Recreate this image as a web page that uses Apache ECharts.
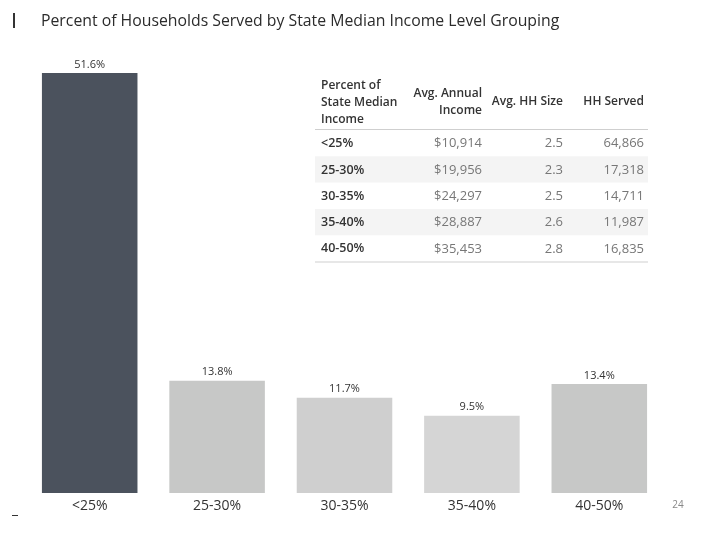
<!DOCTYPE html>
<html><head><meta charset="utf-8">
<script src="https://cdn.jsdelivr.net/npm/echarts@6/dist/echarts.min.js"></script>
<style>html,body{margin:0;padding:0;background:#fff}#c{width:720px;height:540px}</style>
</head><body><div id="c"></div>
<script>
const categories = ['<25%', '25-30%', '30-35%', '35-40%', '40-50%'];
const percentServed = [51.6, 13.8, 11.7, 9.5, 13.4];
const avgAnnualIncome = ['$10,914', '$19,956', '$24,297', '$28,887', '$35,453'];
const avgHHSize = ['2.5', '2.3', '2.5', '2.6', '2.8'];
const hhServed = ['64,866', '17,318', '14,711', '11,987', '16,835'];
const barColors = ['#4b525d', '#c7c8c7', '#cfcfcf', '#d5d5d5', '#c7c8c7'];

const FONT = '"Open Sans", "Noto Sans", sans-serif';
const chart = echarts.init(document.getElementById('c'));

const graphics = [];
graphics.push({type:'rect', shape:{x:13,y:13,width:2,height:15}, style:{fill:'#333'}});
graphics.push({type:'rect', shape:{x:12,y:515,width:6,height:1}, style:{fill:'#333'}});
graphics.push({type:'text', left:41, top:13, style:{text:'Percent of Households Served by State Median Income Level Grouping', font:'15.8px '+FONT, fill:'#2b2b2b'}});
graphics.push({type:'text', x:678, y:505, style:{text:'24', font:'10px '+FONT, fill:'#888', align:'center', verticalAlign:'middle'}});

const tX0 = 315, tX1 = 648;
const colRight = [482, 563, 644];
const rowTop = 130, rowH = 26.3;
const HF = '600 12px '+FONT;
[['Percent of',86],['State Median',103],['Income',120]].forEach(([t,y])=>{
  graphics.push({type:'text', x:321, y:y, style:{text:t, font:HF, fill:'#333', verticalAlign:'middle'}});
});
[['Avg. Annual',94],['Income',111]].forEach(([t,y])=>{
  graphics.push({type:'text', x:colRight[0], y:y, style:{text:t, font:HF, fill:'#333', align:'right', verticalAlign:'middle'}});
});
graphics.push({type:'text', x:colRight[1], y:102, style:{text:'Avg. HH Size', font:HF, fill:'#333', align:'right', verticalAlign:'middle'}});
graphics.push({type:'text', x:colRight[2], y:102, style:{text:'HH Served', font:HF, fill:'#333', align:'right', verticalAlign:'middle'}});
graphics.push({type:'rect', shape:{x:tX0,y:rowTop-1,width:tX1-tX0,height:1}, style:{fill:'#cfcfcf'}});
categories.forEach((c,i)=>{
  const y0 = rowTop + i*rowH;
  if (i % 2 === 1) graphics.push({type:'rect', z:-1, shape:{x:tX0,y:y0,width:tX1-tX0,height:rowH}, style:{fill:'#f4f4f4'}});
  const yc = y0 + rowH/2 + 0.5;
  graphics.push({type:'text', x:321, y:yc, style:{text:c, font:'600 12.5px '+FONT, fill:'#333', verticalAlign:'middle'}});
  graphics.push({type:'text', x:colRight[0], y:yc, style:{text:avgAnnualIncome[i], font:'13px '+FONT, fill:'#777', align:'right', verticalAlign:'middle'}});
  graphics.push({type:'text', x:colRight[1], y:yc, style:{text:avgHHSize[i], font:'13px '+FONT, fill:'#777', align:'right', verticalAlign:'middle'}});
  graphics.push({type:'text', x:colRight[2], y:yc, style:{text:hhServed[i], font:'13px '+FONT, fill:'#777', align:'right', verticalAlign:'middle'}});
});
graphics.push({type:'rect', shape:{x:tX0,y:rowTop+5*rowH,width:tX1-tX0,height:1}, style:{fill:'#cfcfcf'}});

chart.setOption({
  animation:false,
  grid:{left:26, right:57, top:73, bottom:47, containLabel:false},
  xAxis:{type:'category', data:categories, axisLine:{show:false}, axisTick:{show:false},
    axisLabel:{margin:6, fontSize:14, color:'#333', fontFamily:FONT}},
  yAxis:{type:'value', min:0, max:51.6, show:false, splitLine:{show:false}},
  series:[{type:'bar', barCategoryGap:'25%',
    data: percentServed.map((v,i)=>({value:v, itemStyle:{color:barColors[i]}})),
    label:{show:true, position:'top', distance:3, fontSize:11, color:'#333', fontFamily:FONT, formatter:p=>p.value.toFixed(1)+'%'}
  }],
  graphic: graphics
});
</script></body></html>
